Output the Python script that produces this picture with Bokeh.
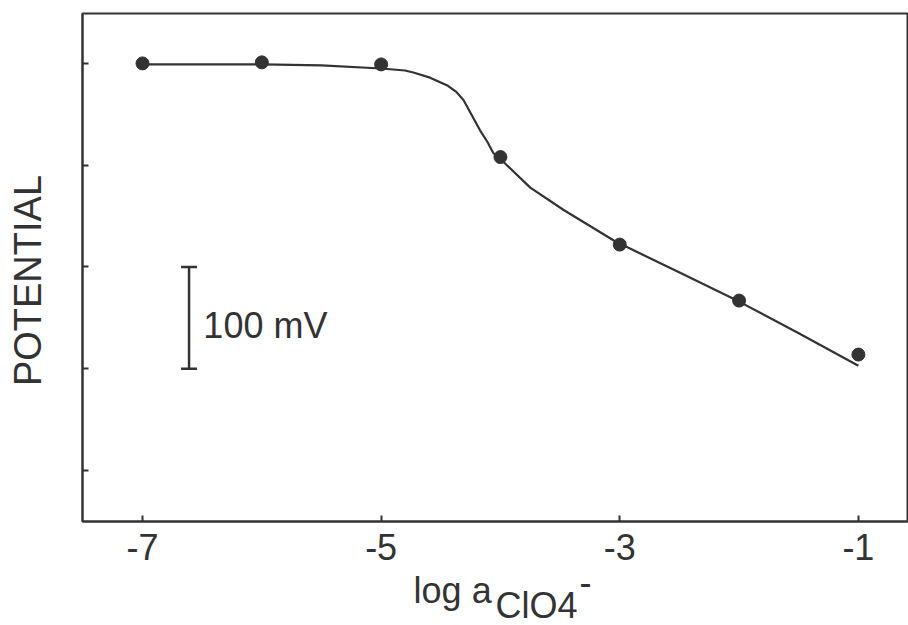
import math
from bokeh.plotting import figure
from bokeh.layouts import column
from bokeh.models import Range1d, FixedTicker, Label
from bokeh.embed import file_html
from bokeh.resources import INLINE

# measured points: log activity of perchlorate vs. potential (mV, relative)
log_a = [-7, -6, -5, -4, -3, -2, -1]
potential_mv = [400, 401, 399, 308, 222, 167, 114]

# fitted (drawn) response curve
fit_log_a = [-7.0, -6.0, -5.5, -5.0, -4.8, -4.73, -4.59, -4.44, -4.37, -4.31,
             -4.24, -4.17, -4.11, -4.06, -4.0, -3.75, -3.47, -3.05, -3.0,
             -2.49, -2.0, -1.5, -1.0]
fit_mv = [399, 399, 398, 395, 393, 391, 386, 378, 372, 364,
          349, 334, 323, 312, 306, 278, 256, 226, 223,
          194, 166, 135, 103]

x_ticks = [-7, -5, -3, -1]
x_tick_labels = ["-7", "-5", "-3", "-1"]
y_ticks = [0, 100, 200, 300, 400]

# scale bar (100 mV)
bar_x = -6.61
bar_y0, bar_y1 = 100, 200
bar_cap = 0.067
bar_text = "100 mV"

INK = "#333333"
FONT = "Liberation Sans"

p = figure(width=908, height=575, output_backend="svg", toolbar_location=None,
           x_range=Range1d(-7.503, -0.58), y_range=Range1d(-50, 449),
           min_border_left=82, min_border_right=0, min_border_top=13,
           min_border_bottom=54)
p.background_fill_color = "white"
p.border_fill_color = "white"
p.outline_line_color = INK
p.outline_line_width = 2
p.xgrid.visible = False
p.ygrid.visible = False

# axes
p.xaxis.ticker = FixedTicker(ticks=x_ticks)
p.xaxis.major_label_overrides = {t: s for t, s in zip(x_ticks, x_tick_labels)}
p.yaxis.ticker = FixedTicker(ticks=y_ticks)
for ax in (p.xaxis[0], p.yaxis[0]):
    ax.axis_line_color = INK
    ax.axis_line_width = 2
    ax.major_tick_line_color = INK
    ax.major_tick_line_width = 2
    ax.major_tick_in = 6
    ax.major_tick_out = 0
    ax.minor_tick_line_color = None
p.xaxis.major_label_text_font = FONT
p.xaxis.major_label_text_font_size = "36px"
p.xaxis.major_label_text_color = INK
p.xaxis.major_label_standoff = 12
p.yaxis.major_label_text_font_size = "0px"
p.yaxis.major_label_text_color = None

# curve and points
p.line(fit_log_a, fit_mv, line_color=INK, line_width=2.2)
p.scatter(log_a, potential_mv, size=13, fill_color=INK, line_color=INK)

# scale bar
p.segment(x0=[bar_x, bar_x - bar_cap, bar_x - bar_cap],
          y0=[bar_y0, bar_y0, bar_y1],
          x1=[bar_x, bar_x + bar_cap, bar_x + bar_cap],
          y1=[bar_y1, bar_y0, bar_y1],
          line_color=INK, line_width=2.5)
p.add_layout(Label(x=-6.49, y=142.5, text=bar_text, text_font=FONT,
                   text_font_size="36px", text_color=INK,
                   text_align="left", text_baseline="middle"))

# y-axis title (in the left panel, positioned in data units)
p.add_layout(Label(x=-7.956, y=186.7, text="POTENTIAL", angle=math.pi / 2,
                   text_font=FONT, text_font_size="38px", text_color=INK,
                   text_align="center", text_baseline="middle"), "left")

# x-axis title strip: log a_{ClO4}^-   (x shares the main plot's log-a scale)
t = figure(width=908, height=50, title=None, output_backend="svg",
           toolbar_location=None, x_range=p.x_range, y_range=Range1d(0, 50),
           x_axis_type=None, y_axis_type=None, min_border_left=82,
           min_border_right=0, min_border_top=0, min_border_bottom=0)
t.outline_line_color = None
t.xgrid.visible = False
t.ygrid.visible = False
t.background_fill_color = "white"
t.border_fill_color = "white"
for txt, lx, ly in [("log a", -4.728, 35), ("ClO4", -4.041, 20), ("-", -3.337, 44)]:
    t.add_layout(Label(x=lx, y=ly, text=txt, text_font=FONT,
                       text_font_size="36px", text_color=INK,
                       text_align="left", text_baseline="middle"))

layout = column(p, t, spacing=0)
open("out.html", "w").write(file_html(layout, INLINE))
